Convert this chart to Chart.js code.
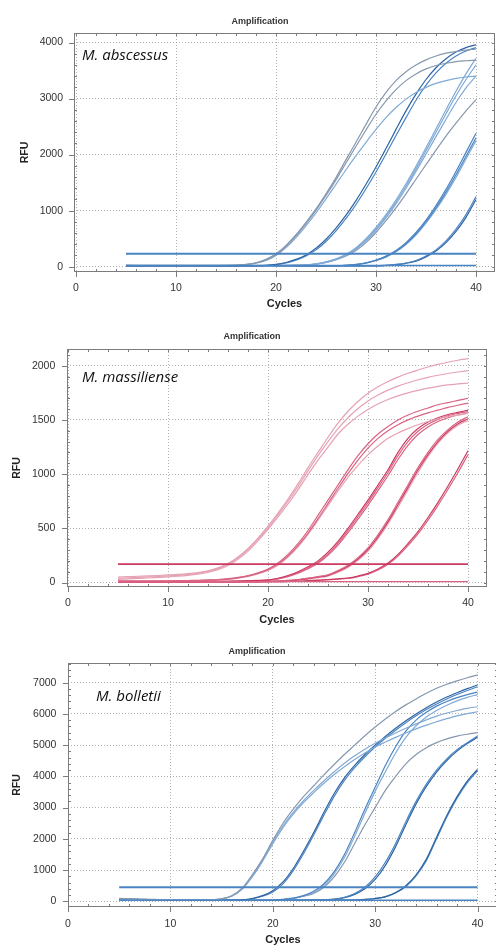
<!DOCTYPE html>
<html>
<head>
<meta charset="utf-8">
<script src="https://cdn.jsdelivr.net/npm/chart.js@4"></script>
<style>
  html, body { margin: 0; padding: 0; background: #fff; overflow: hidden; width: 496px; height: 947px; }
  canvas { position: absolute; left: 0; }
</style>
</head>
<body>
<canvas id="abscessus" width="496" height="316" style="top:0px"></canvas>
<canvas id="massiliense" width="496" height="310" style="top:320px"></canvas>
<canvas id="bolletii" width="500" height="317" style="top:630px"></canvas>
<script>
// cycles 5..40, one RFU value per cycle
const cycles = [5,6,7,8,9,10,11,12,13,14,15,16,17,18,19,20,21,22,23,24,25,26,27,28,29,30,31,32,33,34,35,36,37,38,39,40];
const cycleTicks = [0, 10, 20, 30, 40];

// --- M. abscessus ---
const abscTicks = [0, 1000, 2000, 3000, 4000];
const abscThreshold = 230;
const abscNegative = 22;
const abscA1 = [22,21,21,20,20,20,20,20,21,21, 22,25,40,70,130,230,380,570,790,1030, 1300,1590,1910,2220,2540,2850,3110,3320,3480,3600, 3690,3760,3810,3840,3865,3880];
const abscA2 = [18,18,17,17,17,17,17,17,18,18, 20,23,35,65,120,215,360,550,770,1010, 1270,1550,1850,2150,2440,2720,2960,3160,3320,3440, 3530,3590,3630,3660,3675,3685];
const abscA3 = [25,24,24,23,23,23,23,23,24,24, 25,28,38,62,112,200,340,520,730,960, 1210,1470,1730,1980,2220,2450,2660,2840,2990,3110, 3200,3270,3320,3360,3385,3400];
const abscB1 = [15,15,15,15,15,15,15,15,15,15, 15,16,17,19,24,40,75,130,210,330, 490,690,920,1180,1470,1780,2110,2450,2780,3080, 3340,3550,3710,3830,3910,3960];
const abscB2 = [12,12,12,12,12,12,12,12,12,12, 12,13,14,16,21,35,65,115,190,300, 450,640,860,1110,1390,1690,2010,2340,2660,2970, 3240,3460,3630,3760,3850,3910];
const abscC1 = [20,20,20,20,20,20,20,20,20,20, 20,20,20,20,20,21,22,25,32,50, 85,140,220,340,500,700,930,1190,1480,1790, 2120,2460,2800,3130,3440,3720];
const abscC2 = [18,18,18,18,18,18,18,18,18,18, 18,18,18,18,18,18,19,22,28,44, 76,125,200,310,460,650,870,1120,1400,1700, 2010,2320,2630,2930,3190,3400];
const abscC3 = [22,22,22,22,22,22,22,22,22,22, 22,22,22,22,22,23,24,26,32,48, 78,125,190,290,430,610,820,1050,1300,1560, 1820,2080,2330,2560,2780,2980];
const abscC4 = [16,16,16,16,16,16,16,16,16,16, 16,16,16,16,16,17,18,22,30,47, 80,132,210,325,480,675,900,1155,1440,1745, 2070,2400,2730,3050,3340,3600];
const abscD1 = [15,15,15,15,15,15,15,15,15,15, 15,15,15,15,15,15,15,15,15,15, 16,18,25,40,70,120,190,290,430,610, 830,1090,1380,1700,2040,2380];
const abscD2 = [13,13,13,13,13,13,13,13,13,13, 13,13,13,13,13,13,13,13,13,13, 14,16,22,36,64,112,180,275,410,585, 800,1050,1330,1640,1970,2300];
const abscD3 = [17,17,17,17,17,17,17,17,17,17, 17,17,17,17,17,17,17,17,17,17, 17,19,24,38,66,110,170,265,395,565, 775,1020,1290,1590,1920,2250];
const abscE1 = [15,15,15,15,15,15,15,15,15,15, 15,15,15,15,15,15,15,15,15,15, 15,15,15,15,15,15,25,40,65,110, 190,300,460,670,930,1250];
const abscE2 = [14,14,14,14,14,14,14,14,14,14, 14,14,14,14,14,14,14,14,14,14, 14,14,14,14,14,14,22,36,60,100, 175,280,430,630,880,1200];

// --- M. massiliense ---
const massTicks = [0, 500, 1000, 1500, 2000];
const massThreshold = 170;
const massNegative = 8;
const massA1 = [50,54,58,61,65,70,75,82,92,108, 135,175,235,315,410,520,640,770,910,1060, 1200,1340,1470,1580,1670,1745,1805,1855,1895,1930, 1960,1988,2012,2032,2050,2065];
const massA2 = [40,44,48,52,56,61,67,75,86,102, 128,168,228,305,400,505,625,750,885,1030, 1170,1300,1420,1520,1605,1675,1730,1775,1812,1843, 1870,1893,1912,1928,1942,1955];
const massA3 = [30,34,38,42,47,52,58,66,77,93, 118,158,215,290,385,490,605,725,855,995, 1130,1250,1370,1460,1535,1597,1647,1688,1722,1750, 1773,1793,1810,1824,1832,1838];
const massB1 = [15,15,15,15,16,16,17,19,21,24, 28,36,48,65,90,125,180,260,360,480, 620,760,900,1040,1170,1280,1370,1440,1500,1545, 1580,1610,1640,1660,1680,1700];
const massB2 = [12,12,12,12,13,13,14,16,18,21, 25,32,44,60,84,118,170,245,340,455, 590,730,870,1005,1130,1240,1330,1400,1455,1500, 1535,1565,1590,1615,1635,1655];
const massB3 = [10,10,10,10,11,11,12,14,16,19, 23,30,41,56,79,112,160,235,330,445, 575,710,845,970,1080,1180,1260,1330,1380,1420, 1455,1485,1510,1530,1545,1560];
const massC1 = [8,8,8,8,8,8,8,9,9,10, 11,12,14,17,20,25,40,65,100,145, 200,280,380,500,630,760,900,1040,1200,1330, 1420,1480,1520,1550,1570,1590];
const massC2 = [7,7,7,7,7,7,7,8,8,9, 10,11,13,15,18,23,36,60,92,135, 188,265,362,480,608,738,875,1015,1170,1300, 1395,1460,1505,1538,1560,1577];
const massC3 = [6,6,6,6,6,6,6,7,7,8, 9,10,12,14,17,21,33,55,86,127, 178,252,345,460,585,712,848,985,1135,1265, 1365,1435,1485,1520,1545,1562];
const massD1 = [6,6,6,6,6,6,6,6,6,6, 7,7,8,9,10,12,15,20,28,40, 55,72,110,160,230,320,440,580,740,900, 1060,1200,1320,1410,1480,1530];
const massD2 = [5,5,5,5,5,5,5,5,5,5, 6,6,7,8,9,11,14,18,25,36, 50,66,102,150,218,305,422,560,718,878, 1038,1180,1300,1395,1465,1510];
const massD3 = [4,4,4,4,4,4,4,4,4,4, 5,5,6,7,8,10,12,16,22,32, 45,60,95,140,205,290,405,540,695,855, 1015,1160,1285,1380,1450,1495];
const massE1 = [5,5,5,5,5,5,5,5,5,5, 5,5,6,6,7,8,9,11,14,18, 22,28,34,42,60,85,125,180,260,360, 470,600,740,890,1050,1215];
const massE2 = [4,4,4,4,4,4,4,4,4,4, 4,4,5,5,6,7,8,10,12,16, 20,25,31,38,55,78,115,168,245,340, 448,575,712,860,1015,1180];

// --- M. bolletii ---
const bolTicks = [0, 1000, 2000, 3000, 4000, 5000, 6000, 7000];
const bolThreshold = 450;
const bolNegative = 35;
const bolA1 = [95,85,75,65,55,48,42,38,38,45, 80,180,420,850,1350,1950,2500,2950,3350,3700, 4050,4380,4700,5000,5300,5580,5840,6080,6290,6480, 6660,6820,6950,7060,7160,7250];
const bolA2 = [80,72,64,56,49,43,38,35,35,42, 75,170,400,820,1320,1900,2420,2850,3220,3550, 3860,4150,4420,4660,4870,5060,5230,5390,5540,5680, 5810,5930,6030,6110,6180,6230];
const bolA3 = [70,63,56,50,44,39,35,33,33,40, 70,160,380,780,1280,1840,2360,2790,3160,3480, 3780,4060,4310,4540,4750,4940,5100,5250,5390,5520, 5640,5750,5850,5940,6010,6070];
const bolB1 = [60,55,50,46,42,38,35,33,32,32, 32,35,50,90,180,340,620,1050,1600,2200, 2850,3450,3950,4350,4700,5000,5280,5540,5780,6000, 6200,6380,6540,6680,6810,6925];
const bolB2 = [50,46,42,39,36,33,31,30,29,29, 29,31,45,80,160,300,560,980,1520,2120, 2760,3360,3870,4280,4630,4940,5220,5480,5720,5940, 6140,6320,6480,6620,6750,6870];
const bolC1 = [45,42,40,38,36,34,33,32,31,31, 31,31,32,33,35,40,60,100,180,320, 560,950,1500,2200,2950,3650,4350,4950,5450,5800, 6050,6250,6400,6520,6620,6700];
const bolC2 = [40,38,36,34,33,32,31,30,30,30, 30,30,31,32,34,38,55,92,165,280, 500,880,1400,2080,2820,3520,4150,4750,5250,5620, 5900,6110,6280,6420,6530,6620];
const bolC3 = [42,40,38,36,35,34,33,32,32,32, 32,32,33,34,36,40,58,95,160,250, 450,780,1250,1850,2450,3000,3550,4000,4400,4700, 4920,5080,5200,5290,5350,5400];
const bolD1 = [35,34,33,32,31,31,30,30,30,30, 30,30,30,30,31,32,33,35,38,42, 48,70,130,250,450,780,1250,1850,2550,3200, 3750,4200,4560,4850,5080,5290];
const bolD2 = [32,31,30,29,29,28,28,28,28,28, 28,28,28,28,29,30,31,33,36,40, 45,62,115,220,400,700,1150,1750,2450,3120, 3680,4140,4510,4810,5050,5250];
const bolE1 = [30,30,30,30,30,30,30,30,30,30, 30,30,30,30,30,30,30,30,30,30, 32,34,36,40,60,90,150,280,500,850, 1350,2050,2750,3350,3850,4220];
const bolE2 = [28,28,28,28,28,28,28,28,28,28, 28,28,28,28,28,28,28,28,28,28, 30,32,34,38,56,85,140,265,475,815, 1300,2000,2700,3300,3800,4180];

const blueLight = '#80aad6', blueGray = '#8698ae', blueMid = '#4a84c3', blueDark = '#2c64a3';
const pinkLight = '#e5a2b4', pinkMid = '#da6383', pinkDark = '#cd3a61';

function flat(v) { return [{x: cycles[0], y: v}, {x: cycles[cycles.length - 1], y: v}]; }

// frame, minor ticks, panel title and species label
const framePlugin = {
  id: 'frame',
  afterDraw(chart, args, o) {
    const {ctx, chartArea: a, scales: {x, y}} = chart;
    ctx.save();
    ctx.strokeStyle = '#7c7c7c';
    ctx.lineWidth = 1;
    ctx.strokeRect(Math.round(a.left) + 0.5, Math.round(a.top) + 0.5, Math.round(a.width) - 1, Math.round(a.height) - 1);
    ctx.beginPath();
    for (let v = 0; v <= 40; v += 2) {
      const px = Math.round(x.getPixelForValue(v)) + 0.5;
      const major = v % 10 === 0;
      ctx.moveTo(px, a.bottom);
      ctx.lineTo(px, major ? a.bottom + 5 : a.bottom - 3);
      ctx.moveTo(px, a.top);
      ctx.lineTo(px, a.top + 3);
    }
    for (let v = 0; v <= y.max; v += o.minor) {
      const py = Math.round(y.getPixelForValue(v)) + 0.5;
      const major = v % o.major === 0;
      ctx.moveTo(a.left, py);
      ctx.lineTo(major ? a.left - 5 : a.left + 3, py);
      ctx.moveTo(a.right, py);
      ctx.lineTo(a.right - 3, py);
    }
    ctx.stroke();
    ctx.fillStyle = '#333';
    ctx.font = 'bold 9px "Liberation Sans"';
    ctx.textAlign = 'center';
    ctx.textBaseline = 'middle';
    ctx.fillText('Amplification', o.titleX, o.titleY);
    ctx.fillStyle = '#111';
    ctx.font = 'italic 15px "Open Sans"';
    ctx.textAlign = 'left';
    ctx.fillText(o.species, o.spX, o.spY);
    ctx.restore();
  }
};
Chart.register(framePlugin);

function panel(id, o) {
  const tickFont = {family: 'Liberation Sans', size: 10.5};
  const titleFont = {family: 'Liberation Sans', size: 11, weight: 'bold'};
  return new Chart(document.getElementById(id), {
    type: 'line',
    data: {
      labels: cycles,
      datasets: o.series.map(([values, color, width]) => ({
        data: values,
        borderColor: color,
        borderWidth: width || 1.2,
        pointRadius: 0,
        cubicInterpolationMode: 'monotone',
        fill: false
      }))
    },
    options: {
      responsive: false,
      animation: false,
      devicePixelRatio: 1,
      layout: {padding: {top: o.top, right: o.right, left: 0, bottom: 0}},
      plugins: {legend: {display: false}, tooltip: {enabled: false}, frame: o.frame},
      scales: {
        x: {
          type: 'linear', min: o.xMin, max: o.xMax,
          afterBuildTicks: s => { s.ticks = cycleTicks.map(v => ({value: v})); },
          afterFit: s => { s.height = o.xH; s.paddingLeft = 0; s.paddingRight = 0; },
          ticks: {padding: o.xPad, color: '#333', font: tickFont, maxRotation: 0, callback: v => String(v)},
          grid: {drawTicks: false, color: '#b3b3b3'},
          border: {display: false, dash: [1, 2]},
          title: {display: true, text: 'Cycles', color: '#222', font: titleFont, padding: {top: 0, bottom: o.xTitlePad}}
        },
        y: {
          type: 'linear', min: o.yMin, max: o.yMax,
          afterBuildTicks: s => { s.ticks = o.yTicks.map(v => ({value: v})); },
          afterFit: s => { s.width = o.yW; s.paddingTop = 0; s.paddingBottom = 0; },
          ticks: {padding: o.yPad, color: '#333', font: tickFont, callback: v => String(v)},
          grid: {drawTicks: false, color: '#b3b3b3'},
          border: {display: false, dash: [1, 2]},
          title: {display: true, text: 'RFU', color: '#222', font: {family: 'Liberation Sans', size: 10.5, weight: 'bold'}, padding: {top: o.yTitlePad, bottom: 0}}
        }
      }
    }
  });
}

panel('abscessus', {
  top: 33, right: 1, xH: 44, yW: 74, xPad: 10, yPad: 11, xTitlePad: 5.4, yTitlePad: 18.7,
  xMin: -0.2, xMax: 41.9, yMin: -95, yMax: 4170, yTicks: abscTicks,
  frame: {minor: 200, major: 1000, titleX: 260, titleY: 21.7, species: 'M. abscessus', spX: 82, spY: 56},
  series: [
    [flat(abscThreshold), blueMid, 2],
    [flat(abscNegative), blueMid, 1.5],
    [abscA1, blueGray], [abscA2, blueGray], [abscA3, blueLight],
    [abscB1, blueDark], [abscB2, blueMid],
    [abscC1, blueLight], [abscC2, blueLight], [abscC3, blueGray], [abscC4, blueLight],
    [abscD1, blueMid], [abscD2, blueMid], [abscD3, blueLight],
    [abscE1, blueMid], [abscE2, blueDark]
  ]
});

panel('massiliense', {
  top: 29, right: 9, xH: 43, yW: 67, xPad: 10, yPad: 11.7, xTitlePad: 3.4, yTitlePad: 10.7,
  xMin: -0.1, xMax: 41.9, yMin: -41, yMax: 2154, yTicks: massTicks,
  frame: {minor: 100, major: 500, titleX: 252, titleY: 16.7, species: 'M. massiliense', spX: 82, spY: 58},
  series: [
    [flat(massThreshold), pinkDark, 1.8],
    [flat(massNegative), pinkMid, 1.3],
    [massA1, pinkLight], [massA2, pinkLight], [massA3, pinkLight],
    [massB1, pinkMid], [massB2, pinkMid], [massB3, pinkLight],
    [massC1, pinkDark], [massC2, pinkMid], [massC3, pinkMid],
    [massD1, pinkMid], [massD2, pinkDark], [massD3, pinkLight],
    [massE1, pinkDark], [massE2, pinkMid]
  ]
});

panel('bolletii', {
  top: 33, right: 2, xH: 40, yW: 68, xPad: 11, yPad: 11.6, xTitlePad: 0, yTitlePad: 10.7,
  xMin: 0, xMax: 42, yMin: -183, yMax: 7631, yTicks: bolTicks,
  frame: {minor: 200, major: 1000, titleX: 257, titleY: 21.7, species: 'M. bolletii', spX: 96, spY: 67},
  series: [
    [flat(bolThreshold), blueMid, 2],
    [flat(bolNegative), blueMid, 1.5],
    [bolA1, blueGray], [bolA2, blueLight], [bolA3, blueLight],
    [bolB1, blueDark], [bolB2, blueMid],
    [bolC1, blueMid], [bolC2, blueLight], [bolC3, blueGray],
    [bolD1, blueMid], [bolD2, blueDark],
    [bolE1, blueDark], [bolE2, blueMid]
  ]
});
</script>
</body>
</html>
